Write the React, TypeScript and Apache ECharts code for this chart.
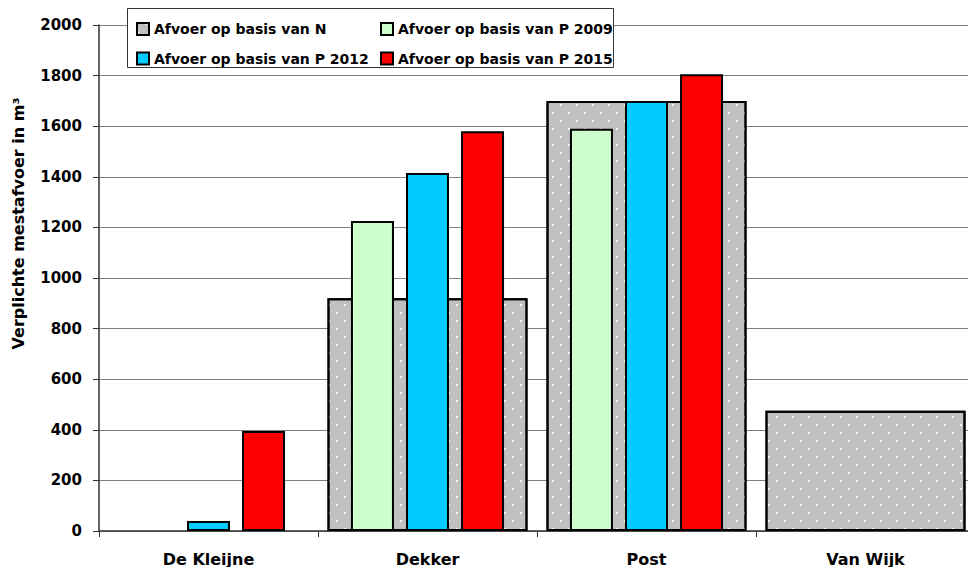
import React, { useEffect, useRef } from "react";
import * as echarts from "echarts";

const categories = ["De Kleijne", "Dekker", "Post", "Van Wijk"];
const seriesNames = [
  "Afvoer op basis van N",
  "Afvoer op basis van P 2009",
  "Afvoer op basis van P 2012",
  "Afvoer op basis van P 2015",
];
const valuesN = [0, 920, 1700, 475];
const valuesP2009 = [0, 1225, 1590, 0];
const valuesP2012 = [40, 1415, 1700, 0];
const valuesP2015 = [395, 1580, 1805, 0];
const colors = ["#C0C0C0", "#CCFFCC", "#00CCFF", "#FF0000"];

const FONT = "DejaVu Sans";

const nz = (arr: number[]) => arr.map((v) => (v === 0 ? "-" : v));

export default function App() {
  const ref = useRef<HTMLDivElement>(null);
  useEffect(() => {
    if (!ref.current) return;
    const chart = echarts.init(ref.current, null, { renderer: "svg" });
    const border = { borderColor: "#000", borderWidth: 2 };
    const narrow = (i: number, data: number[]) => ({
      name: seriesNames[i],
      type: "bar",
      xAxisIndex: 1,
      barWidth: 43,
      barGap: "28%",
      data: nz(data),
      itemStyle: { color: colors[i], ...border },
    });
    const legendBase = {
      orient: "vertical",
      top: 17,
      itemWidth: 12,
      itemHeight: 12,
      itemGap: 15.5,
      icon: "rect",
      z: 200,
      selectedMode: false,
      itemStyle: { borderColor: "#000", borderWidth: 2 },
      textStyle: { fontFamily: FONT, fontWeight: "bold", fontSize: 14, color: "#000", lineHeight: 14 },
    };
    chart.setOption({
      animation: false,
      backgroundColor: "#fff",
      grid: { left: 99, right: 0, top: 25, bottom: 36 },
      legend: [
        { ...legendBase, data: [seriesNames[0], seriesNames[2]], left: 131 },
        { ...legendBase, data: [seriesNames[1], seriesNames[3]], left: 375 },
      ],
      graphic: [
        {
          type: "rect",
          z: 100,
          shape: { x: 127.5, y: 8.5, width: 486, height: 59 },
          style: { fill: "#fff", stroke: "#333", lineWidth: 1 },
        },
        {
          type: "text",
          x: 18,
          y: 223.5,
          rotation: Math.PI / 2,
          z: 100,
          style: {
            text: "Verplichte mestafvoer in m³",
            fontFamily: FONT,
            fontWeight: "bold",
            fontSize: 16,
            fill: "#000",
            textAlign: "center",
            textVerticalAlign: "middle",
          },
        },
      ],
      xAxis: [
        {
          type: "category",
          data: categories,
          axisLine: { lineStyle: { color: "#333", width: 1.5 } },
          axisTick: { show: true, length: 6, lineStyle: { color: "#333" } },
          axisLabel: {
            fontFamily: FONT,
            fontWeight: "bold",
            fontSize: 16,
            color: "#000",
            margin: 20,
            interval: 0,
          },
        },
        {
          type: "category",
          data: categories,
          show: false,
        },
      ],
      yAxis: {
        type: "value",
        min: 0,
        max: 2000,
        interval: 200,
        axisLine: { show: true, lineStyle: { color: "#333", width: 1.5 } },
        axisTick: { show: true, length: 6, lineStyle: { color: "#333" } },
        axisLabel: {
          fontFamily: FONT,
          fontWeight: "bold",
          fontSize: 15,
          color: "#000",
          margin: 17,
          formatter: (v: number) => String(v),
        },
        splitLine: { lineStyle: { color: "#808080", width: 1 } },
      },
      series: [
        {
          name: seriesNames[0],
          type: "bar",
          xAxisIndex: 0,
          barWidth: 200,
          data: nz(valuesN),
          itemStyle: {
            color: colors[0],
            ...border,
            decal: {
              symbol: "rect",
              symbolSize: 1,
              color: "rgba(255,255,255,0.85)",
              dashArrayX: [[1.5, 13.5], [0, 7.5, 1.5, 6]],
              dashArrayY: [1.5, 6],
            },
          },
        },
        narrow(1, valuesP2009),
        narrow(2, valuesP2012),
        narrow(3, valuesP2015),
      ],
    });
    return () => chart.dispose();
  }, []);
  return (
    <div
      style={{
        position: "absolute",
        left: 0,
        top: 0,
        width: 968,
        height: 567,
        overflow: "hidden",
      }}
    >
      <div ref={ref} style={{ width: 975, height: 567 }} />
    </div>
  );
}
